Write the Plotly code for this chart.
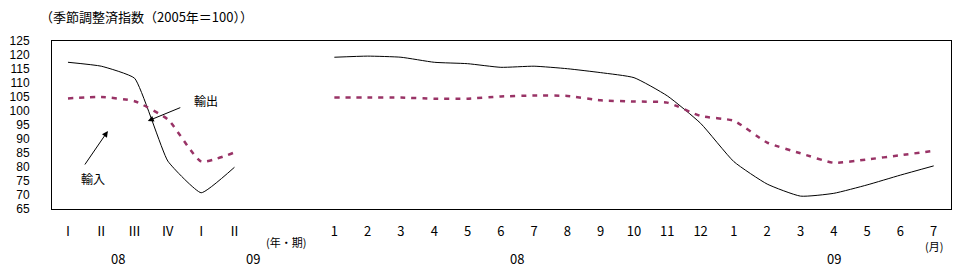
import plotly.graph_objects as go

# Quarterly (2008 I - 2009 II)
q_labels = ["Ⅰ", "Ⅱ", "Ⅲ", "Ⅳ", "Ⅰ", "Ⅱ"]
q_imports = [117.4, 116.0, 111.7, 82.1, 70.8, 79.9]
q_exports = [104.5, 105.0, 103.5, 97.0, 82.0, 85.2]

# Monthly (2008/1 - 2009/7)
m_labels = ["1", "2", "3", "4", "5", "6", "7", "8", "9", "10", "11", "12",
            "1", "2", "3", "4", "5", "6", "7"]
m_imports = [119.2, 119.6, 119.2, 117.4, 116.9, 115.6, 116.0, 115.1, 113.7, 111.9,
             105.4, 95.6, 81.9, 73.9, 69.6, 70.6, 73.6, 77.1, 80.4]
m_exports = [104.8, 104.8, 104.8, 104.4, 104.4, 105.2, 105.5, 105.4, 103.8, 103.4,
             103.0, 98.2, 96.5, 88.7, 84.9, 81.5, 82.7, 84.2, 85.8]

y_ticks = list(range(65, 126, 5))

FONT = "Noto Sans CJK JP"
NUMFONT = "Liberation Sans Narrow, Liberation Sans, sans-serif"
PURPLE = "#993366"

qx = list(range(len(q_labels)))
mx = [8 + i for i in range(len(m_labels))]

fig = go.Figure()
fig.add_trace(go.Scatter(x=qx, y=q_imports, mode="lines",
                         line=dict(color="black", width=1, shape="spline", smoothing=0.4)))
fig.add_trace(go.Scatter(x=qx, y=q_exports, mode="lines",
                         line=dict(color=PURPLE, width=2.5, dash="5px,6px", shape="spline", smoothing=0.5)))
fig.add_trace(go.Scatter(x=mx, y=m_imports, mode="lines",
                         line=dict(color="black", width=1, shape="spline", smoothing=0.5)))
fig.add_trace(go.Scatter(x=mx, y=m_exports, mode="lines",
                         line=dict(color=PURPLE, width=2.5, dash="5px,6px", shape="spline", smoothing=0.5)))

fig.update_layout(
    width=962, height=273,
    margin=dict(l=51, r=10, t=41, b=64),
    paper_bgcolor="white", plot_bgcolor="white",
    showlegend=False,
    font=dict(family=FONT, size=12, color="black"),
)
fig.update_xaxes(
    range=[-0.48, 26.52],
    tickvals=qx + mx, ticktext=q_labels + m_labels,
    showgrid=False, zeroline=False, showline=True, linecolor="black", linewidth=1,
    mirror=True, ticks="", ticklabelstandoff=10,
    tickfont=dict(family=FONT, size=13),
)
fig.update_yaxes(
    range=[65, 125], tickvals=y_ticks,
    showgrid=False, zeroline=False, showline=True, linecolor="black", linewidth=1,
    mirror=True, ticks="", ticklabelstandoff=19,
    tickfont=dict(family=NUMFONT, size=12),
)

anns = [
    dict(text="（季節調整済指数（2005年＝100））", xref="paper", yref="paper",
         x=(37 - 51) / 901, y=(209 - 16) / 168, xanchor="left", yanchor="middle", font=dict(size=13)),
    dict(text="(年・期)", xref="x", yref="paper", x=6.55, y=(209 - 242) / 168,
         xanchor="center", yanchor="middle", font=dict(size=11)),
    dict(text="(月)", xref="x", yref="paper", x=26.0, y=(209 - 246) / 168,
         xanchor="center", yanchor="middle", font=dict(size=11)),
    dict(text="08", xref="x", yref="paper", x=1.5, y=(209 - 258) / 168,
         xanchor="center", yanchor="middle", font=dict(size=13)),
    dict(text="09", xref="x", yref="paper", x=5.55, y=(209 - 258) / 168,
         xanchor="center", yanchor="middle", font=dict(size=13)),
    dict(text="08", xref="x", yref="paper", x=13.5, y=(209 - 258) / 168,
         xanchor="center", yanchor="middle", font=dict(size=13)),
    dict(text="09", xref="x", yref="paper", x=23.0, y=(209 - 258) / 168,
         xanchor="center", yanchor="middle", font=dict(size=13)),
    # 輸出 label and arrow
    dict(text="輸出", xref="paper", yref="paper", x=(205 - 51) / 901, y=(209 - 100) / 168,
         xanchor="center", yanchor="middle", showarrow=False, font=dict(size=12)),
    dict(text="", xref="paper", yref="paper", x=(147 - 51) / 901, y=(209 - 121) / 168,
         ax=34, ay=-14, showarrow=True,
         arrowhead=2, arrowsize=1.2, arrowwidth=1, arrowcolor="black"),
    # 輸入 label and arrow
    dict(text="輸入", xref="paper", yref="paper", x=(92 - 51) / 901, y=(209 - 178) / 168,
         xanchor="center", yanchor="middle", showarrow=False, font=dict(size=12)),
    dict(text="", xref="paper", yref="paper", x=(107 - 51) / 901, y=(209 - 131) / 168,
         ax=-24, ay=35, showarrow=True,
         arrowhead=2, arrowsize=1.2, arrowwidth=1, arrowcolor="black"),
]
for a in anns:
    a.setdefault("showarrow", False)
fig.update_layout(annotations=anns)

fig.write_html("out.html")
